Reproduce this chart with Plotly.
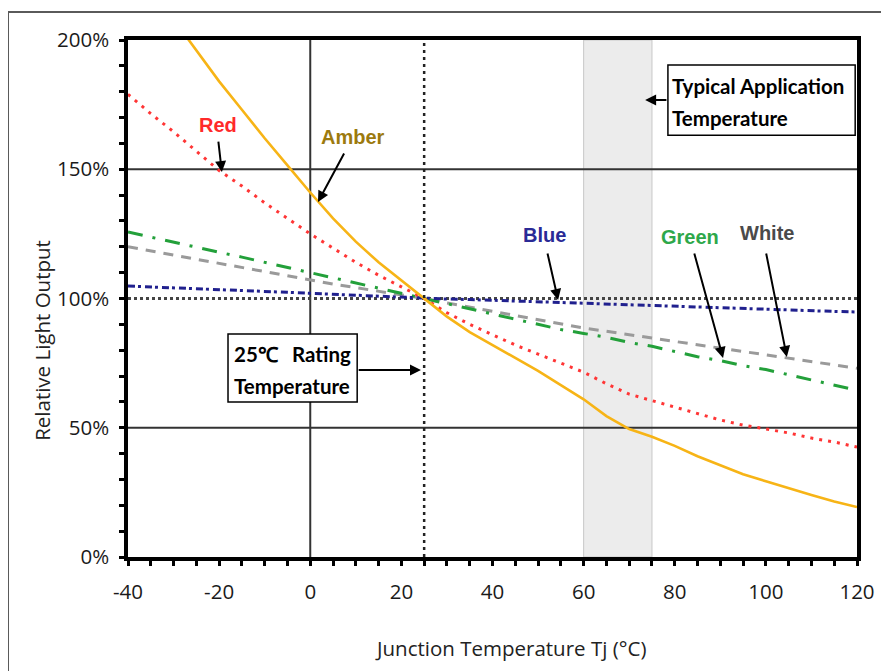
import plotly.graph_objects as go

# ---------------- data ----------------
temps = list(range(-40, 125, 5))  # junction temperature, degC

amber = [None, None, 208, 196, 184, 173, 162, 151.5, 141, 131, 122, 114, 107, 100,
         93, 87, 82, 77, 72, 66.5, 61, 54.5, 49.5, 46.5, 43, 39, 35.5, 32, 29.3, 26.5, 24, 21.5, 19.3]
red = [179, 171.5, 164.5, 157, 149.5, 143.5, 137, 131, 125, 119.5, 114, 109, 104.5, 100,
       94.5, 90, 86, 82, 78.5, 75, 71.5, 67, 63, 60.5, 58, 55.5, 53, 51, 49.5, 48, 46, 44.5, 42.5]
green = [125.7, 123.7, 121.8, 119.8, 117.9, 116, 114, 112, 110, 108, 106, 104, 102, 100,
         98, 96, 94, 92, 90, 88, 86.5, 85, 83, 81.5, 79.5, 77.5, 76, 74, 72.5, 70.5, 68.5, 66.5, 64.5]
white = [120, 118.4, 116.8, 115.2, 113.6, 112, 110.3, 108.7, 107, 105.6, 104.2, 102.8, 101.4, 100,
         98.3, 96.7, 95, 93.4, 91.8, 90.2, 88.6, 87.3, 86, 84.7, 83.4, 82.1, 80.8, 79.5, 78.2, 76.9, 75.6, 74.3, 73]
blue = [104.8, 104.5, 104.1, 103.8, 103.4, 103.1, 102.7, 102.4, 102, 101.6, 101.2, 100.8, 100.4, 100,
        99.8, 99.6, 99.3, 99, 98.8, 98.5, 98.3, 98, 97.7, 97.4, 97.1, 96.8, 96.5, 96.2, 95.9, 95.6, 95.3, 95, 94.8]

x_ticks = [-40, -20, 0, 20, 40, 60, 80, 100, 120]
x_tick_labels = ["-40", "-20", "0", "20", "40", "60", "80", "100", "120"]
y_ticks = [0, 50, 100, 150, 200]
y_tick_labels = ["0%", "50%", "100%", "150%", "200%"]

grid_levels = [50, 150]          # solid horizontal lines
reference_level = 100            # dotted 100 % line
rating_temp = 25                 # dotted vertical line
zero_temp = 0                    # solid vertical line
app_band = (60, 75)              # typical application temperature band

# ---------------- figure ----------------
fig = go.Figure()

series = [
    ("White", white, "#9a9a9a", "10px,8px", 3),
    ("Green", green, "#23a03a", "15px,10px,3px,10px", 3),
    ("Blue", blue, "#20208e", "7px,3px,3px,4px", 3),
    ("Red", red, "#ff3535", "3px,6px", 3),
    ("Amber", amber, "#f7b416", "solid", 2.6),
]
for name, vals, col, dash, w in series:
    fig.add_trace(go.Scatter(x=temps, y=vals, mode="lines", name=name,
                             line=dict(color=col, width=w, dash=dash),
                             connectgaps=False, hoverinfo="skip"))

shapes = []
# outer frame
shapes.append(dict(type="rect", xref="paper", yref="paper", x0=-0.1646, x1=1.3, y0=-0.4, y1=1.054,
                   line=dict(color="#5a5a5a", width=2), layer="below"))
# application band
shapes.append(dict(type="rect", xref="x", yref="paper", x0=app_band[0], x1=app_band[1], y0=0, y1=1,
                   fillcolor="#ececec", line=dict(color="#c8c8c8", width=1), layer="below"))
for g in grid_levels:
    shapes.append(dict(type="line", xref="paper", yref="y", x0=0, x1=1, y0=g, y1=g,
                       line=dict(color="#333333", width=2), layer="below"))
shapes.append(dict(type="line", xref="x", yref="paper", x0=zero_temp, x1=zero_temp, y0=0, y1=1,
                   line=dict(color="#333333", width=2), layer="below"))
shapes.append(dict(type="line", xref="paper", yref="y", x0=0, x1=1, y0=reference_level, y1=reference_level,
                   line=dict(color="#444444", width=3, dash="3px,3px"), layer="below"))
shapes.append(dict(type="line", xref="x", yref="paper", x0=rating_temp, x1=rating_temp, y0=0, y1=1,
                   line=dict(color="#222222", width=2.5, dash="3px,4px"), layer="above"))
# annotation boxes
shapes.append(dict(type="rect", xref="x", yref="y", x0=78.5, x1=119.6, y0=163.2, y1=190.3,
                   fillcolor="white", line=dict(color="black", width=1.5), layer="above"))
shapes.append(dict(type="rect", xref="x", yref="y", x0=-18.05, x1=10.3, y0=60.0, y1=86.3,
                   fillcolor="white", line=dict(color="black", width=1.5), layer="above"))

annotations = []
label_font = "Liberation Sans Narrow, Arial Narrow, Liberation Sans, Arial"
labels = [
    ("Red", -20.2, 167.1, "#ff2a2a"),
    ("Amber", 9.4, 162.5, "#9c7a0e"),
    ("Blue", 51.5, 124.6, "#2a2a96"),
    ("Green", 83.4, 123.8, "#2ea84a"),
    ("White", 100.3, 125.3, "#4a4a4a"),
]
for t, x, y, c in labels:
    annotations.append(dict(x=x, y=y, xref="x", yref="y", text="<b>" + t + "</b>", showarrow=False,
                            font=dict(family=label_font, size=20, color=c)))

arrows = [
    (-20.2, 161.3, -19.4, 148.9),
    (7.6, 156.7, 1.7, 137.3),
    (52.0, 118.0, 54.4, 99.4),
    (84.2, 118.0, 90.6, 77.0),
    (100.0, 118.0, 104.6, 77.4),
    (78.5, 176.8, 73.5, 176.8),
    (10.3, 72.3, 24.3, 72.3),
]
for ax, ay, x, y in arrows:
    annotations.append(dict(x=x, y=y, ax=ax, ay=ay, xref="x", yref="y", axref="x", ayref="y",
                            text="", showarrow=True, arrowhead=2, arrowsize=1.1, arrowwidth=2,
                            arrowcolor="black"))

box_font = dict(family="Lato, Open Sans, Arial", size=20.5, color="black")
annotations += [
    dict(x=79.0, y=182.2, xref="x", yref="y", text="<b>Typical Application</b>", showarrow=False,
         xanchor="left", font=box_font),
    dict(x=79.0, y=169.8, xref="x", yref="y", text="<b>Temperature</b>", showarrow=False,
         xanchor="left", font=box_font),
    dict(x=-17.2, y=78.5, xref="x", yref="y", text="<b>25℃</b>", showarrow=False,
         xanchor="left", font=box_font),
    dict(x=9.4, y=78.5, xref="x", yref="y", text="<b>Rating</b>", showarrow=False,
         xanchor="right", font=box_font),
    dict(x=-17.2, y=66.2, xref="x", yref="y", text="<b>Temperature</b>", showarrow=False,
         xanchor="left", font=box_font),
]

axis_title_font = dict(family="Open Sans, Lato, Arial", size=20.5, color="#222222")
annotations += [
    dict(x=0.525, y=-0.176, xref="paper", yref="paper", text="Junction Temperature Tj (°C)",
         showarrow=False, xanchor="center", yanchor="middle", font=axis_title_font),
    dict(x=-0.118, y=0.42, xref="paper", yref="paper", text="Relative Light Output",
         showarrow=False, textangle=-90, xanchor="center", yanchor="middle", font=axis_title_font),
]

tick_font = dict(family="Open Sans, Lato, Arial", size=20.5, color="#1a1a1a")

fig.update_layout(
    width=881, height=663, autosize=False,
    margin=dict(l=120, r=32, t=32, b=114),
    paper_bgcolor="white", plot_bgcolor="white",
    showlegend=False,
    shapes=shapes, annotations=annotations,
    xaxis=dict(range=[-40, 120], tickvals=x_ticks, ticktext=x_tick_labels, showgrid=False, zeroline=False,
               showline=True, linecolor="black", linewidth=3.5, mirror=True,
               ticks="outside", ticklen=5, tickwidth=3, tickcolor="black",
               minor=dict(dtick=5, ticks="outside", ticklen=5, tickwidth=3, tickcolor="black", showgrid=False),
               tickfont=tick_font, ticklabelstandoff=9),
    yaxis=dict(range=[0, 200], tickvals=y_ticks, ticktext=y_tick_labels, showgrid=False, zeroline=False,
               showline=True, linecolor="black", linewidth=3.5, mirror=True,
               ticks="outside", ticklen=5, tickwidth=3, tickcolor="black",
               minor=dict(dtick=10, ticks="outside", ticklen=5, tickwidth=3, tickcolor="black", showgrid=False),
               tickfont=tick_font, ticklabelstandoff=6),
)

fig.write_html("out.html")
